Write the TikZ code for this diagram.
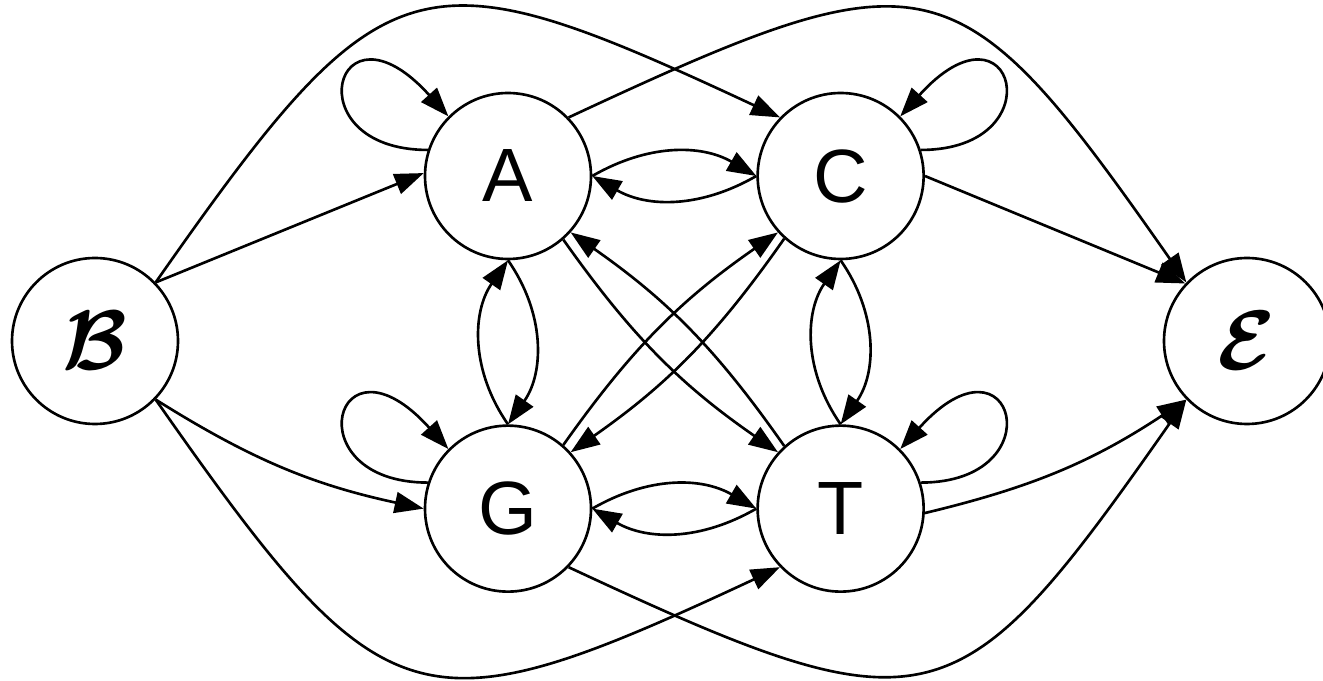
\documentclass[tikz,border=0pt]{standalone}
\usepackage{fix-cm}
\usepackage{amsmath}
\usepackage{fontspec}
\setmainfont{Liberation Sans}
\usetikzlibrary{arrows.meta,positioning}

\begin{document}
\begin{tikzpicture}[
    node distance=3.28cm and 3.28cm,
    nuc/.style={draw, circle, line width=1.5pt, minimum size=3.32cm, inner sep=0pt, font=\fontsize{43}{48}\selectfont},
    term/.style={nuc, font=\fontsize{48}{52}\selectfont},
    line/.style={-{Triangle[length=5.8mm, width=4.2mm]}, line width=1.5pt}
  ]
    \useasboundingbox (0,0) rectangle (26.46,13.62);
    \node[nuc] (A) at (10.16,10.10) {A};
    \node[nuc, right=of A] (C) {C};
    \node[nuc, below=of A] (G) {G};
    \node[nuc, right=of G] (T) {T};
    \node[term] (B) at (1.90,6.80) {$\boldsymbol{\mathcal{B}}$};
    \node[term] (E) at (24.94,6.80) {$\boldsymbol{\mathcal{E}}$};

    % from the begin state
    \draw[line] (B.44) -- (A.178);
    \draw[line] (B.-44) to[bend right=10] (G.180);
    \draw[line] (B.44) .. controls +(55:8cm) and +(155:8cm) .. (C.136);
    \draw[line] (B.-44) .. controls +(-55:8cm) and +(-155:8cm) .. (T.-136);

    % self loops
    \draw[line] (A.162) .. controls +(180:2.7cm) and +(132:3.4cm) .. (A.135);
    \draw[line] (G.162) .. controls +(180:2.7cm) and +(132:3.4cm) .. (G.135);
    \draw[line] (C.18) .. controls +(0:2.7cm) and +(48:3.4cm) .. (C.45);
    \draw[line] (T.18) .. controls +(0:2.7cm) and +(48:3.4cm) .. (T.45);

    % across
    \draw[line] (A.east) to[out=30, in=150] (C.west);
    \draw[line] (C.west) to[out=210, in=-30] (A.east);
    \draw[line] (G.east) to[out=30, in=150] (T.west);
    \draw[line] (T.west) to[out=210, in=-30] (G.east);

    % up and down
    \draw[line] (A.south) to[out=-55, in=55] (G.north);
    \draw[line] (G.north) to[out=125, in=-125] (A.south);
    \draw[line] (C.south) to[out=-55, in=55] (T.north);
    \draw[line] (T.north) to[out=125, in=-125] (C.south);

    % diagonals
    \draw[line] (A.-49) to[bend right=10] (T.138);
    \draw[line] (T.132) to[bend right=10] (A.-42);
    \draw[line] (G.49) to[bend left=10] (C.-138);
    \draw[line] (C.-132) to[bend left=10] (G.42);

    % to the end state
    \draw[line] (C.east) -- (E.137);
    \draw[line] (T.-3) to[bend right=10] (E.-136);
    \draw[line] (A.44) .. controls +(25:8cm) and +(125:8cm) .. (E.136);
    \draw[line] (G.-44) .. controls +(-25:8cm) and +(-125:8cm) .. (E.-136);
\end{tikzpicture}
\end{document}
